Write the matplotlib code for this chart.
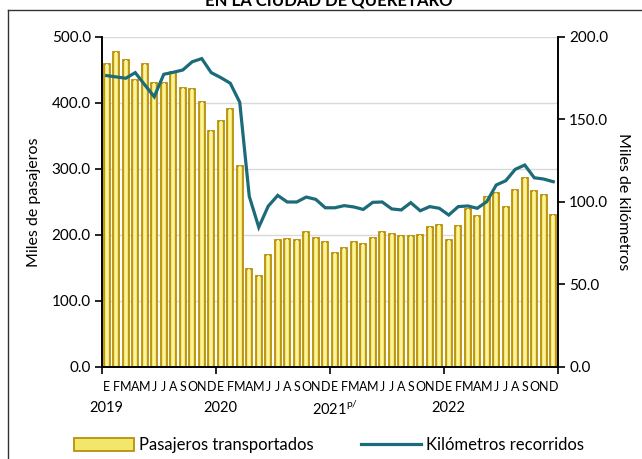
import matplotlib
matplotlib.use("Agg")
import matplotlib.pyplot as plt
from matplotlib.patches import Patch
from matplotlib.lines import Line2D
import numpy as np

plt.rcParams['font.family'] = ['Lato', 'DejaVu Sans']

months = ["E", "F", "M", "A", "M", "J", "J", "A", "S", "O", "N", "D"] * 4
years = ["2019", "2020", "2021$^{\\mathregular{p/}}$", "2022"]

pasajeros = [459, 478, 465, 435, 459, 431, 431, 447, 422, 421, 401, 357,
             372, 391, 304, 148, 138, 170, 193, 194, 193, 205, 196, 189,
             172, 181, 189, 186, 195, 205, 202, 198, 199, 200, 212, 215,
             193, 213, 240, 229, 257, 263, 243, 268, 286, 266, 260, 230]

kilometros = [176.6, 175.8, 175.0, 178.4, 171.0, 163.8, 177.4, 178.6, 180.0, 185.0, 186.9, 178.4,
              175.4, 172.0, 160.4, 103.5, 84.7, 97.5, 104.0, 100.0, 100.0, 103.0, 101.6, 96.5,
              96.5, 97.8, 97.0, 95.5, 99.8, 100.0, 95.8, 95.2, 99.6, 94.7, 97.2, 96.2,
              92.1, 97.2, 97.6, 96.2, 100.2, 110.3, 112.9, 119.8, 122.4, 114.7, 113.9, 112.3]

bar_fill = '#F3E76B'
bar_edge = '#B8900C'
line_col = '#1C6B78'

fig = plt.figure(figsize=(6.42, 4.59), dpi=100)
ax = fig.add_axes([102/642, 1-367/459, 456/642, 330/459])
ax2 = ax.twinx()

x = np.arange(len(pasajeros))
ax.bar(x, pasajeros, width=0.62, color=bar_fill, edgecolor=bar_edge, linewidth=1.3, zorder=2)
ax.bar(x, pasajeros, width=0.22, color='#FAF3A6', edgecolor='none', linewidth=0, zorder=2.1)
ax2.plot(x, kilometros, color=line_col, linewidth=2.3, solid_joinstyle='miter')

ax.set_xlim(-0.5, len(pasajeros) - 0.5)
ax.set_ylim(0, 500)
ax2.set_ylim(0, 200)
ax.set_yticks(np.arange(0, 501, 100))
ax.set_yticklabels([f"{v:.1f}" for v in np.arange(0, 501, 100)])
ax2.set_yticks(np.arange(0, 201, 50))
ax2.set_yticklabels([f"{v:.1f}" for v in np.arange(0, 201, 50)])
ax.grid(axis='y', color='#D9D9D9', linewidth=1.0, zorder=0)
ax.set_axisbelow(True)

for a in (ax, ax2):
    a.spines['top'].set_visible(False)
    for s in ('left', 'right', 'bottom'):
        a.spines[s].set_linewidth(1.2)
        a.spines[s].set_color('black')
ax.tick_params(axis='y', labelsize=11, length=5, width=1.2, direction='out', pad=3)
ax2.tick_params(axis='y', labelsize=11, length=5, width=1.2, direction='out', pad=3)

ax.set_xticks([-0.5, 11.5, 23.5, 35.5, 47.5])
ax.set_xticklabels([])
ax.tick_params(axis='x', length=5, width=1.2, direction='out')

trans = ax.get_xaxis_transform()
for i, m in enumerate(months):
    ax.text(i, -0.06, m, transform=trans, ha='center', va='center', fontsize=9)
for k, yl in enumerate(years):
    ax.text(12 * k, -0.125, yl, transform=trans, ha='center', va='center', fontsize=10.5)

ax.set_ylabel("Miles de pasajeros", fontsize=11.5, labelpad=8)
ax2.set_ylabel("Miles de kilómetros", fontsize=11.5, rotation=270, labelpad=16)

fig.text(329/642, 1-5/459, "EN LA CIUDAD DE QUERÉTARO", ha='center', va='baseline',
         fontsize=12, fontweight='bold')

fig.add_artist(Line2D([8/642, 1], [1-10/459, 1-10/459], transform=fig.transFigure, color='#333333', linewidth=1))
fig.add_artist(Line2D([8/642, 8/642], [0, 1-10/459], transform=fig.transFigure, color='#333333', linewidth=1))

handles = [Patch(facecolor=bar_fill, edgecolor=bar_edge, linewidth=1.3),
           Line2D([0], [0], color=line_col, linewidth=2.3)]
fig.legend(handles, ["Pasajeros transportados", "Kilómetros recorridos"], loc='center',
           bbox_to_anchor=(329/642, 1-445/459), ncol=2, frameon=False, fontsize=12,
           handlelength=3.6, handleheight=0.8, columnspacing=2.8, handletextpad=0.3)

fig.savefig("out.png", dpi=100)
